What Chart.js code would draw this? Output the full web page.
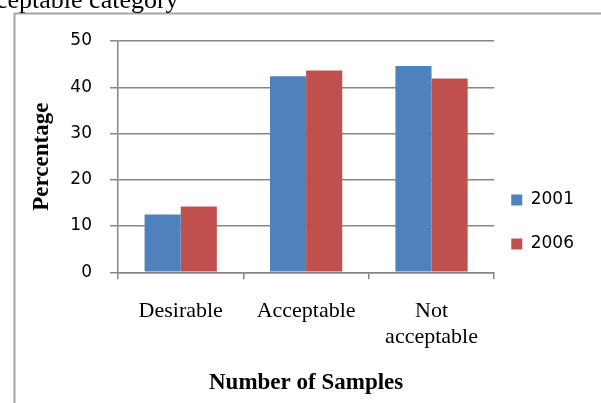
<!DOCTYPE html>
<html>
<head>
<meta charset="utf-8">
<script src="https://cdn.jsdelivr.net/npm/chart.js@4/dist/chart.umd.min.js"></script>
<style>
  html, body { margin: 0; padding: 0; background: #fff; overflow: hidden; }
  #wrap { position: relative; width: 601px; height: 403px; overflow: hidden; background: #fff; }
  #caption {
    position: absolute; left: -4px; top: -13px;
    font-family: "Liberation Serif", "Times New Roman", serif;
    font-size: 26px; line-height: 26px; color: #000; white-space: nowrap;
  }
  canvas { position: absolute; left: 0; top: 0; }
</style>
</head>
<body>
<div id="wrap">
  <canvas id="chart" width="601" height="403"></canvas>
  <div id="caption">ceptable category</div>
</div>
<script>
// Sample classes and the share of samples (%) in each survey year
const categories = ['Desirable', 'Acceptable', ['Not', 'acceptable']];
const years = ['2001', '2006'];
const values2001 = [12.5, 42.4, 44.6];
const values2006 = [14.2, 43.6, 41.9];
const yTicks = [0, 10, 20, 30, 40, 50];

const BLUE = '#4F81BD';
const RED = '#C0504D';
const GRID = '#868686';

// Outer frame of the chart box (top and left edges)
const frame = {
  id: 'frame',
  beforeDraw(chart) {
    const ctx = chart.ctx;
    ctx.save();
    ctx.strokeStyle = '#a6a6a6';
    ctx.lineWidth = 2;
    ctx.beginPath();
    ctx.moveTo(14.5, 403);
    ctx.lineTo(14.5, 13.5);
    ctx.lineTo(601, 13.5);
    ctx.stroke();
    ctx.restore();
  }
};

// Pull the legend a little closer to the plot
const legendShift = {
  id: 'legendShift',
  afterLayout(chart) {
    const lg = chart.legend;
    if (lg) { lg.left -= 10; lg.right -= 10; }
  }
};

new Chart(document.getElementById('chart'), {
  type: 'bar',
  data: {
    labels: categories,
    datasets: [
      { label: years[0], data: values2001, backgroundColor: BLUE, borderWidth: 0 },
      { label: years[1], data: values2006, backgroundColor: RED, borderWidth: 0 }
    ]
  },
  options: {
    responsive: false,
    animation: false,
    devicePixelRatio: 1,
    categoryPercentage: 0.576,
    barPercentage: 1,
    layout: { padding: { top: 41, left: 14, right: 7, bottom: 0 } },
    plugins: {
      tooltip: { enabled: false },
      legend: {
        position: 'right',
        align: 'center',
        maxWidth: 108,
        labels: {
          boxWidth: 11,
          boxHeight: 11,
          padding: 27,
          color: '#000',
          font: { family: '"DejaVu Sans", sans-serif', size: 17 }
        }
      }
    },
    scales: {
      x: {
        grid: {
          display: true,
          drawOnChartArea: false,
          drawTicks: true,
          tickLength: 7,
          color: GRID,
          lineWidth: 1.5,
          offset: true
        },
        border: { display: true, color: GRID, width: 1.5 },
        ticks: {
          color: '#000',
          padding: 18.5,
          maxRotation: 0,
          autoSkip: false,
          font: { family: '"Liberation Serif", "Times New Roman", serif', size: 22 }
        },
        title: {
          display: true,
          text: 'Number of Samples',
          color: '#000',
          padding: { top: 0, bottom: 5.7 },
          font: { family: '"Liberation Serif", "Times New Roman", serif', size: 23, weight: 'bold' }
        },
        afterFit(scale) { scale.height = 130.7; }
      },
      y: {
        min: yTicks[0],
        max: yTicks[yTicks.length - 1],
        afterBuildTicks(scale) { scale.ticks = yTicks.map(v => ({ value: v })); },
        grid: {
          color: GRID,
          lineWidth: 1.5,
          drawTicks: true,
          tickLength: 8
        },
        border: { display: true, color: GRID, width: 1.5 },
        ticks: {
          color: '#000',
          padding: 18,
          font: { family: '"DejaVu Sans", sans-serif', size: 17 }
        },
        title: {
          display: true,
          text: 'Percentage',
          color: '#000',
          padding: { top: 14, bottom: 0 },
          font: { family: '"Liberation Serif", "Times New Roman", serif', size: 23, weight: 'bold' }
        },
        afterFit(scale) { scale.width = 104; }
      }
    }
  },
  plugins: [frame, legendShift]
});
</script>
</body>
</html>
